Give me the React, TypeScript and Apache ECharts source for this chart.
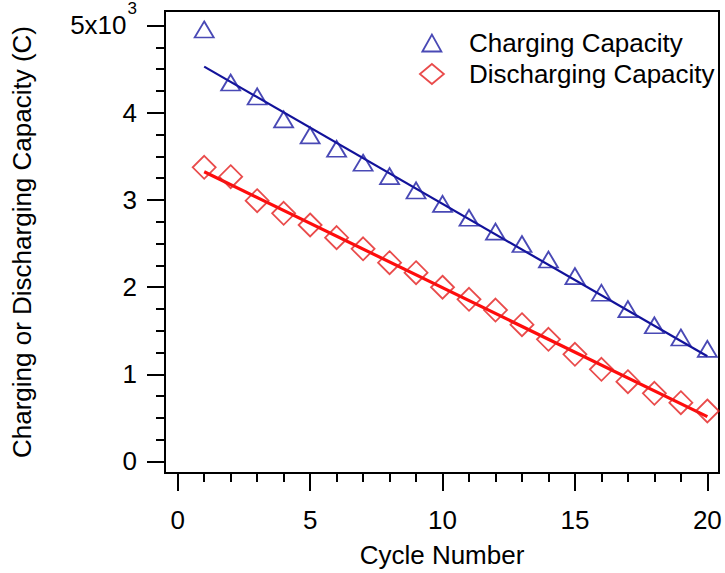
import React, { useEffect, useRef } from "react";
import * as echarts from "echarts";

const cycles = [1, 2, 3, 4, 5, 6, 7, 8, 9, 10, 11, 12, 13, 14, 15, 16, 17, 18, 19, 20];
const chargingCapacity = [4954, 4346, 4186, 3923, 3739, 3586, 3426, 3272, 3108, 2955, 2795, 2636, 2494, 2316, 2125, 1935, 1747, 1562, 1422, 1292];
const dischargingCapacity = [3374, 3266, 2991, 2846, 2712, 2567, 2439, 2280, 2165, 1998, 1860, 1737, 1569, 1401, 1229, 1057, 915, 782, 674, 579];
const chargingFit = [[1, 4528], [20, 1207]];
const dischargingFit = [[1, 3323], [20, 514]];

const xMajorTicks = [0, 5, 10, 15, 20];
const xMinorTicks = [1, 2, 3, 4, 6, 7, 8, 9, 11, 12, 13, 14, 16, 17, 18, 19];
const yMajorTicks = [0, 1000, 2000, 3000, 4000, 5000];
const yMinorTicks = [250, 500, 750, 1250, 1500, 1750, 2250, 2500, 2750, 3250, 3500, 3750, 4250, 4500, 4750];

const FONT = "'Liberation Sans', Arial, sans-serif";
const BLUE = "#1c1ca2";
const BLUE_LINE = "#12129a";
const RED = "#e41e1e";
const RED_LINE = "#ff0c0c";

const TRI_ICON = "path://M0,0M24,20M2.5,18.5L12,1.5L21.5,18.5Z";
const DIA_ICON = "path://M0,0M24,20M12,0L24,10L12,20L0,10Z";

export default function App() {
  const ref = useRef<HTMLDivElement>(null);
  useEffect(() => {
    if (!ref.current) return;
    const chart = echarts.init(ref.current, null, { renderer: "svg" });
    const xRange = { min: -0.48, max: 20.44 };
    const yRange = { min: -132, max: 5166 };
    const tickLine = { color: "#000", width: 2 };
    chart.setOption({
      animation: false,
      backgroundColor: "#fff",
      grid: {
        left: 165,
        top: 11,
        right: 6,
        bottom: 100,
        show: true,
        borderColor: "#000",
        borderWidth: 2,
        backgroundColor: "transparent",
      },
      legend: {
        orient: "vertical",
        left: 419,
        top: 30,
        padding: 0,
        itemGap: 5,
        itemWidth: 64,
        itemHeight: 20,
        textStyle: { fontSize: 26, fontFamily: FONT, color: "#000", lineHeight: 25 },
        data: [
          { name: "Charging Capacity", icon: TRI_ICON, itemStyle: { color: "rgba(0,0,0,0)", borderColor: BLUE, borderWidth: 1.8 } },
          { name: "Discharging Capacity", icon: DIA_ICON, itemStyle: { color: "rgba(0,0,0,0)", borderColor: RED, borderWidth: 1.8 } },
        ],
      },
      xAxis: [
        {
          type: "value",
          position: "bottom",
          ...xRange,
          name: "Cycle Number",
          nameLocation: "middle",
          nameGap: 69,
          nameTextStyle: { fontSize: 26, fontFamily: FONT, color: "#000" },
          axisLine: { show: true, onZero: false, lineStyle: { color: "#000", width: 2 } },
          axisTick: { show: true, inside: false, length: 18, lineStyle: tickLine, customValues: xMajorTicks },
          axisLabel: { show: true, margin: 34, fontSize: 26, fontFamily: FONT, color: "#000", customValues: xMajorTicks },
          splitLine: { show: false },
        },
        {
          type: "value",
          position: "bottom",
          ...xRange,
          axisLine: { show: false, onZero: false },
          axisTick: { show: true, inside: false, length: 9, lineStyle: tickLine, customValues: xMinorTicks },
          axisLabel: { show: false },
          splitLine: { show: false },
        },
      ],
      yAxis: [
        {
          type: "value",
          position: "left",
          ...yRange,
          name: "Charging or Discharging Capacity (C)",
          nameLocation: "middle",
          nameGap: 130,
          nameTextStyle: { fontSize: 26, fontFamily: FONT, color: "#000" },
          axisLine: { show: true, onZero: false, lineStyle: { color: "#000", width: 2 } },
          axisTick: { show: true, inside: false, length: 18, lineStyle: tickLine, customValues: yMajorTicks },
          axisLabel: {
            show: true,
            margin: 28,
            fontSize: 26,
            fontFamily: FONT,
            color: "#000",
            customValues: yMajorTicks,
            formatter: (v: number) => (v === 5000 ? "{a|5x10}{sup|3}" : String(v / 1000)),
            rich: {
              a: { fontSize: 26, fontFamily: FONT, color: "#000", verticalAlign: "bottom" },
              sup: { fontSize: 17, fontFamily: FONT, color: "#000", lineHeight: 17, padding: [0, 0, 21, 1], verticalAlign: "bottom" },
            },
          },
          splitLine: { show: false },
        },
        {
          type: "value",
          position: "left",
          ...yRange,
          axisLine: { show: false, onZero: false },
          axisTick: { show: true, inside: false, length: 9, lineStyle: tickLine, customValues: yMinorTicks },
          axisLabel: { show: false },
          splitLine: { show: false },
        },
      ],
      series: [
        {
          name: "Charging Capacity fit",
          type: "line",
          data: chargingFit,
          symbol: "none",
          lineStyle: { color: BLUE_LINE, width: 2.2 },
          z: 2,
        },
        {
          name: "Discharging Capacity fit",
          type: "line",
          data: dischargingFit,
          symbol: "none",
          lineStyle: { color: RED_LINE, width: 3.2 },
          z: 2,
        },
        {
          name: "Charging Capacity",
          type: "scatter",
          data: cycles.map((c, i) => [c, chargingCapacity[i]]),
          symbol: "triangle",
          symbolSize: [19, 16],
          itemStyle: { color: "rgba(0,0,0,0)", borderColor: BLUE, borderWidth: 1.8 },
          z: 3,
        },
        {
          name: "Discharging Capacity",
          type: "scatter",
          data: cycles.map((c, i) => [c, dischargingCapacity[i]]),
          symbol: "diamond",
          symbolSize: 23,
          itemStyle: { color: "rgba(0,0,0,0)", borderColor: RED, borderWidth: 1.8 },
          z: 3,
        },
      ],
    });
    return () => chart.dispose();
  }, []);
  return (
    <div
      ref={ref}
      style={{ position: "fixed", left: 0, top: 0, width: 725, height: 573, background: "#fff" }}
    />
  );
}
